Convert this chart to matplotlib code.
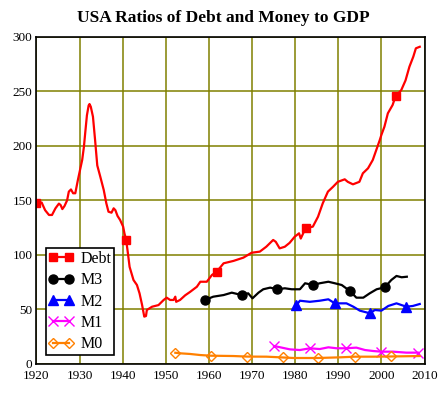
"""USA ratios of debt and money to GDP"""

import numpy as np
import matplotlib
matplotlib.use("Agg")
import matplotlib.pyplot as plt

plt.rcParams['font.family'] = ['Liberation Serif', 'DejaVu Serif']

#=== data (percent of GDP) ===========================
debt_years = [1920.0, 1921.2, 1922.0, 1922.9, 1923.6, 1924.4, 1925.2, 1925.6, 1926.0, 1926.5,
              1927.1, 1927.5, 1928.0, 1928.5, 1929.0, 1929.6, 1930.2, 1930.6, 1931.0, 1931.3,
              1931.7, 1932.1, 1932.3, 1932.6, 1933.1, 1933.6, 1934.1, 1934.8, 1935.6, 1936.2,
              1936.7, 1937.4, 1937.9, 1938.3, 1938.8, 1939.4, 1940.1, 1940.4, 1940.8, 1941.2,
              1941.6, 1941.9, 1942.5, 1943.3, 1943.9, 1944.5, 1945.0, 1945.4, 1945.6, 1946.8,
              1948.3, 1949.5, 1950.2, 1951.0, 1951.8, 1952.2, 1952.4, 1953.3, 1954.5, 1955.6,
              1957.2, 1958.0, 1959.5, 1960.7, 1961.8, 1963.4, 1965.7, 1968.0, 1969.9, 1971.8,
              1973.3, 1974.9, 1975.5, 1976.4, 1977.6, 1978.7, 1979.9, 1980.9, 1981.3, 1982.4,
              1984.1, 1985.3, 1986.4, 1987.6, 1988.8, 1989.9, 1991.5, 1992.2, 1993.4, 1994.9,
              1995.7, 1996.9, 1998.0, 1998.8, 1999.6, 2000.0, 2000.7, 2001.5, 2002.6, 2003.3,
              2004.6, 2005.6, 2006.5, 2007.4, 2008.0, 2008.9]
debt = [148, 148, 141, 136.6, 136.6, 142.7, 147, 145.7, 142, 144.8,
        150, 158, 160, 156.5, 156.5, 168.6, 179.7, 187, 199, 211.7,
        228, 237, 238.3, 235.8, 226.7, 205, 182, 171.7, 159.5, 147.3,
        139.6, 138.7, 142.7, 141, 135.7, 132, 125.9, 119.8, 113.7, 101.7,
        89, 85, 77, 72.4, 64.8, 54, 43.4, 44, 49.5, 52.5,
        54, 58.7, 60.8, 58.7, 58.7, 61.7, 57, 58.7, 63, 66,
        70.8, 75.4, 75.4, 81.6, 84.6, 92.3, 94.5, 97.5, 102, 103,
        107.5, 113.7, 112, 106, 107.5, 111, 116.7, 119.8, 115, 124.4,
        125.9, 135, 147.3, 158, 162.5, 167, 169.3, 167, 164.7, 167,
        174.8, 179.4, 187, 196, 205, 210, 217.5, 229.8, 237.4, 245.6,
        251, 260, 272.5, 281.7, 289.4, 290.8]
debt_marks = [1920.0, 1940.8, 1961.8, 1982.4, 2003.3]

m3_years = [1959.1, 1961.0, 1963.4, 1965.3, 1967.6, 1969.1, 1970.1, 1971.5, 1972.6, 1974.2,
            1975.9, 1977.6, 1979.2, 1981.1, 1982.3, 1984.2, 1985.7, 1987.7, 1989.2, 1990.8,
            1992.7, 1994.2, 1995.8, 1997.3, 1998.9, 2000.8, 2002.3, 2003.5, 2004.7, 2005.9]
m3 = [58.7, 61.7, 63.2, 65.4, 63.2, 64.8, 60.2, 65.4, 68.5, 70,
      68.5, 69.4, 68.5, 68.5, 74, 72.4, 74, 75.4, 74, 72.4,
      66.9, 60.8, 60.8, 64.8, 68.5, 70.3, 77, 80.7, 79.5, 80]
m3_marks = [1959.1, 1967.6, 1975.9, 1984.2, 1992.7, 2000.8]

m2_years = [1980.3, 1981.1, 1983.4, 1985.7, 1987.7, 1989.2, 1991.9, 1993.5, 1995.0, 1997.3,
            1998.5, 2000.0, 2001.6, 2003.5, 2005.8, 2007.3, 2008.9]
m2 = [54, 58, 57, 58, 59.3, 55.6, 55.6, 52.5, 48.9, 46.5,
      49.5, 48.9, 53.2, 55.6, 52.5, 53.2, 55]
m2_marks = [1980.3, 1989.2, 1997.3, 2005.8]

m1_years = [1975.1, 1976.9, 1978.8, 1981.1, 1983.4, 1985.7, 1987.7, 1989.6, 1991.8, 1994.2,
            1996.2, 1998.1, 2000.0, 2002.7, 2005.8, 2008.5]
m1 = [16.5, 15, 13.4, 12.8, 14.4, 13.7, 15.3, 14.4, 14.4, 15,
      12.8, 11.9, 11.3, 11.3, 10.4, 10.4]
m1_marks = [1975.1, 1983.4, 1991.8, 2000.0, 2008.5]

m0_years = [1952.2, 1953.3, 1955.6, 1958.0, 1960.5, 1965.7, 1968.8, 1973.4, 1977.1, 1979.6,
            1985.3, 1990.4, 1993.8, 1998.1, 2002.3, 2008.9]
m0 = [10.3, 9.8, 9.2, 8.2, 7.6, 7.3, 6.8, 6.7, 6.0, 5.5,
      5.5, 6.1, 6.7, 6.7, 6.9, 7.3]
m0_marks = [1952.2, 1960.5, 1968.8, 1977.1, 1985.3, 1993.8, 2002.3]

x_ticks = [1920, 1930, 1940, 1950, 1960, 1970, 1980, 1990, 2000, 2010]
y_ticks = [0, 50, 100, 150, 200, 250, 300]


def idx(years, marks):
    return [years.index(m) for m in marks]


fig = plt.figure(figsize=(4.46, 3.95), dpi=100)
ax = fig.add_axes([0.0818, 0.0785, 0.8700, 0.8285])

ax.plot(debt_years, debt, color='#ff0000', lw=1.6, marker='s', ms=6,
        markevery=idx(debt_years, debt_marks), label='Debt')
ax.plot(m3_years, m3, color='black', lw=1.6, marker='o', ms=6.5,
        markevery=idx(m3_years, m3_marks), label='M3')
ax.plot(m2_years, m2, color='#0000ff', lw=1.6, marker='^', ms=6.5,
        markevery=idx(m2_years, m2_marks), label='M2')
ax.plot(m1_years, m1, color='#ff00ff', lw=1.6, marker='x', ms=7, mew=1,
        markevery=idx(m1_years, m1_marks), label='M1')
ax.plot(m0_years, m0, color='#ff8000', lw=1.6, marker='D', ms=5, mew=1,
        mfc='none', markevery=idx(m0_years, m0_marks), label='M0')

ax.set_xlim(1920, 2010)
ax.set_ylim(0, 300)
ax.set_xticks(x_ticks)
ax.set_yticks(y_ticks)
ax.tick_params(length=0, labelsize=9.5)
ax.tick_params(axis='x', pad=4.5)
ax.tick_params(axis='y', pad=3)
ax.grid(True, color='#808000', lw=1.1)
ax.set_axisbelow(True)
for s in ax.spines.values():
    s.set_color('black')
    s.set_linewidth(1.2)

leg = ax.legend(loc='lower left', bbox_to_anchor=(0.0237, 0.0275), borderaxespad=0,
                fontsize=11.5, fancybox=False, framealpha=1, edgecolor='black',
                numpoints=2, handlelength=1.6, handletextpad=0.4, labelspacing=0.33,
                borderpad=0.18)
leg.get_frame().set_linewidth(1.2)

fig.suptitle('USA Ratios of Debt and Money to GDP', fontsize=12.5, fontweight='bold',
             x=0.5, y=0.975)

plt.savefig('out.png', dpi=100)
